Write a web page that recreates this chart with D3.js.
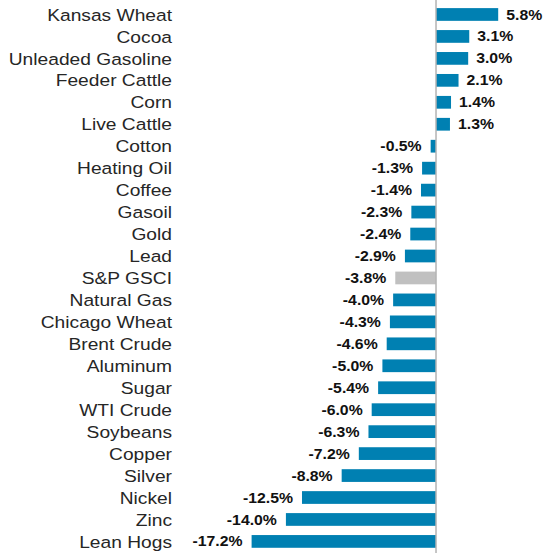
<!DOCTYPE html>
<html><head><meta charset="utf-8">
<script src="https://cdn.jsdelivr.net/npm/d3@7"></script>
<style>body{margin:0;background:#fff;} svg{display:block;}</style>
</head><body>
<script>
const categories = ["Kansas Wheat","Cocoa","Unleaded Gasoline","Feeder Cattle","Corn","Live Cattle","Cotton","Heating Oil","Coffee","Gasoil","Gold","Lead","S&P GSCI","Natural Gas","Chicago Wheat","Brent Crude","Aluminum","Sugar","WTI Crude","Soybeans","Copper","Silver","Nickel","Zinc","Lean Hogs"];
const values = [5.8,3.1,3.0,2.1,1.4,1.3,-0.5,-1.3,-1.4,-2.3,-2.4,-2.9,-3.8,-4.0,-4.3,-4.6,-5.0,-5.4,-6.0,-6.3,-7.2,-8.8,-12.5,-14.0,-17.2];
const highlight = "S&P GSCI";

const W = 543, H = 554, SX = 1.13;
const svg = d3.select("body").append("svg").attr("width", W).attr("height", H);
const data = categories.map((c,i)=>({c, v: values[i]}));

const x = d3.scaleLinear().domain([-17.2, 5.8]).range([251.6, 498.2]);
const y = d3.scaleBand().domain(categories).range([3.5, 552.4]).paddingInner(0.42).paddingOuter(0.21);

svg.selectAll("rect.bar").data(data).join("rect")
  .attr("class","bar")
  .attr("x", d => x(Math.min(0, d.v)))
  .attr("width", d => Math.abs(x(d.v) - x(0)))
  .attr("y", d => y(d.c))
  .attr("height", y.bandwidth())
  .attr("fill", d => d.c === highlight ? "#c0c0c0" : "#0080b2");

svg.append("line")
  .attr("x1", x(0)).attr("x2", x(0)).attr("y1", 0).attr("y2", 553)
  .attr("stroke", "#b3b3b3").attr("stroke-width", 1.5);

svg.selectAll("text.cat").data(data).join("text")
  .attr("class","cat")
  .attr("transform", d => `translate(172,${y(d.c) + y.bandwidth()/2}) scale(${SX},1)`)
  .attr("dy", "0.36em")
  .attr("text-anchor", "end")
  .attr("font-family", "Liberation Sans, Arial, sans-serif")
  .attr("font-size", 17)
  .attr("fill", "#262626")
  .text(d => d.c);

svg.selectAll("text.val").data(data).join("text")
  .attr("class","val")
  .attr("transform", d => `translate(${d.v >= 0 ? x(d.v) + 8 : x(d.v) - 9},${y(d.c) + y.bandwidth()/2}) scale(${SX},1)`)
  .attr("dy", "0.36em")
  .attr("text-anchor", d => d.v >= 0 ? "start" : "end")
  .attr("font-family", "Liberation Sans, Arial, sans-serif")
  .attr("font-size", 14)
  .attr("font-weight", "bold")
  .attr("fill", "#111")
  .text(d => (d.v < 0 ? "-" : "") + Math.abs(d.v).toFixed(1) + "%");
</script>
</body></html>
